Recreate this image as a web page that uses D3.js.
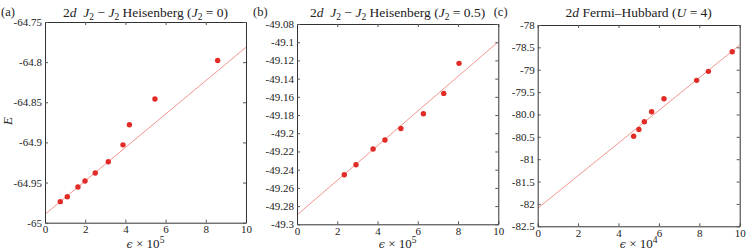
<!DOCTYPE html>
<html>
<head>
<meta charset="utf-8">
<script src="https://cdn.jsdelivr.net/npm/d3@7"></script>
<style>
  body { margin: 0; background: #fff; }
  svg text { font-family: "Liberation Serif", "DejaVu Serif", serif; fill: #222; }
</style>
</head>
<body>
<div id="chart"></div>
<script>
// panel (a): 2d J1-J2 Heisenberg, J2 = 0
var epsA = [0.76, 1.11, 1.64, 1.99, 2.50, 3.15, 3.88, 4.20, 5.47, 8.59];
var energyA = [-64.9738, -64.9676, -64.9555, -64.948, -64.938, -64.924, -64.903, -64.878, -64.846, -64.798];
var fitA = [-64.9895, -64.7815];  // fit value at eps = 0 and eps = 10
var yTicksA = [-64.75, -64.8, -64.85, -64.9, -64.95, -65];
var yLabelsA = ["-64.75", "-64.8", "-64.85", "-64.9", "-64.95", "-65"];

// panel (b): J2 = 0.5
var epsB = [2.35, 2.93, 3.78, 4.37, 5.16, 6.28, 7.29, 8.05];
var energyB = [-49.2455, -49.2346, -49.2173, -49.2074, -49.1948, -49.1786, -49.1562, -49.1232];
var fitB = [-49.2898, -49.0995];
var yTicksB = [-49.08, -49.1, -49.12, -49.14, -49.16, -49.18, -49.2, -49.22, -49.24, -49.26, -49.28, -49.3];
var yLabelsB = ["-49.08", "-49.1", "-49.12", "-49.14", "-49.16", "-49.18", "-49.2", "-49.22", "-49.24", "-49.26", "-49.28", "-49.3"];

// panel (c): 2d Fermi-Hubbard, U = 4
var epsC = [4.75, 5.01, 5.28, 5.64, 6.25, 7.87, 8.45, 9.63];
var energyC = [-80.488, -80.337, -80.162, -79.939, -79.648, -79.237, -79.036, -78.598];
var fitC = [-82.098, -78.448];
var yTicksC = [-78, -78.5, -79, -79.5, -80, -80.5, -81, -81.5, -82, -82.5];
var yLabelsC = ["-78", "-78.5", "-79", "-79.5", "-80.0", "-80.5", "-81", "-81.5", "-82", "-82.5"];

var xTicks = [0, 2, 4, 6, 8, 10];

var W = 747, H = 252;
var serif = "'Liberation Serif', 'DejaVu Serif', serif";
var svg = d3.select("#chart").append("svg").attr("width", W).attr("height", H);

var panels = [
    {tag: "(a)", title: [["2"], ["d", 1], ["\u2002"], ["J", 1], ["2", 0, 1], [" \u2212 "], ["J", 1], ["2", 0, 1], [" Heisenberg ("], ["J", 1], ["2", 0, 1], [" = 0)"]],
     xs: epsA, ys: energyA, fit: fitA, yt: yTicksA, yl: yLabelsA, dom: [-65, -64.75], exp: "5",
     box: {l: 45, r: 246, t: 22, b: 222.7}, ylab: true},
    {tag: "(b)", title: [["2"], ["d", 1], ["\u2002"], ["J", 1], ["2", 0, 1], [" \u2212 "], ["J", 1], ["2", 0, 1], [" Heisenberg ("], ["J", 1], ["2", 0, 1], [" = 0.5)"]],
     xs: epsB, ys: energyB, fit: fitB, yt: yTicksB, yl: yLabelsB, dom: [-49.3, -49.08], exp: "5",
     box: {l: 297, r: 498.3, t: 24, b: 224.3}},
    {tag: "(c)", title: [["2"], ["d", 1], [" Fermi\u2013Hubbard ("], ["U", 1], [" = 4)"]],
     xs: epsC, ys: energyC, fit: fitC, yt: yTicksC, yl: yLabelsC, dom: [-82.5, -78], exp: "4",
     box: {l: 537.7, r: 739.7, t: 25, b: 226.3}}
];

panels.forEach(function(p) {
    var b = p.box;
    var x = d3.scaleLinear().domain([0, 10]).range([b.l, b.r]);
    var y = d3.scaleLinear().domain(p.dom).range([b.b, b.t]);
    var g = svg.append("g");

    // fit line, clipped to the box
    var clipId = "clip" + p.tag.replace(/\W/g, "");
    svg.append("clipPath").attr("id", clipId).append("rect")
        .attr("x", b.l).attr("y", b.t).attr("width", b.r - b.l).attr("height", b.b - b.t);
    g.append("line")
        .attr("clip-path", "url(#" + clipId + ")")
        .attr("x1", x(0)).attr("y1", y(p.fit[0]))
        .attr("x2", x(10)).attr("y2", y(p.fit[1]))
        .attr("stroke", "#f08a84").attr("stroke-width", 0.9);

    g.selectAll("circle").data(p.xs).enter().append("circle")
        .attr("cx", d => x(d))
        .attr("cy", (d, i) => y(p.ys[i]))
        .attr("r", 2.7)
        .attr("fill", "#e02b26");

    // axes: labelled bottom/left, mirrored ticks top/right, all inward
    var fmtY = (d, i) => p.yl[i];
    var ax = [
        g.append("g").attr("transform", "translate(0," + b.b + ")")
            .call(d3.axisBottom(x).tickValues(xTicks).tickSizeInner(-3).tickSizeOuter(0).tickPadding(3)),
        g.append("g").attr("transform", "translate(0," + b.t + ")")
            .call(d3.axisTop(x).tickValues(xTicks).tickSizeInner(-3).tickSizeOuter(0).tickFormat("")),
        g.append("g").attr("transform", "translate(" + b.l + ",0)")
            .call(d3.axisLeft(y).tickValues(p.yt).tickFormat(fmtY).tickSizeInner(-3).tickSizeOuter(0).tickPadding(3)),
        g.append("g").attr("transform", "translate(" + b.r + ",0)")
            .call(d3.axisRight(y).tickValues(p.yt).tickSizeInner(-3).tickSizeOuter(0).tickFormat(""))
    ];
    ax.forEach(function(a) {
        a.attr("font-family", serif).attr("font-size", 11);
        a.select(".domain").attr("stroke", "#333");
        a.selectAll(".tick line").attr("stroke", "#555");
        a.selectAll("text").attr("font-size", 11).attr("fill", "#222")
            .attr("font-family", serif).style("font-family", serif);
    });

    // title
    var cx = (b.l + b.r) / 2;
    var t = svg.append("text").attr("x", cx).attr("y", 17)
        .attr("text-anchor", "middle").attr("font-size", 13.5);
    p.title.forEach(function(s, k) {
        var sp = t.append("tspan").text(s[0]);
        if (s[1]) sp.attr("font-style", "italic");
        if (s[2]) sp.attr("font-size", 9.5).attr("dy", 3);
        else if (k > 0 && p.title[k - 1][2]) sp.attr("dy", -3);
    });
    svg.append("text").attr("x", b.l - 44).attr("y", 16).attr("font-size", 12.5).text(p.tag);

    // x label
    var xl = svg.append("text").attr("x", cx).attr("y", 248)
        .attr("text-anchor", "middle").attr("font-size", 13);
    xl.append("tspan").attr("font-style", "italic").style("font-family", "'DejaVu Serif', serif")
        .attr("font-size", 11).text("\u03f5");
    xl.append("tspan").text(" \u00d7 10");
    xl.append("tspan").attr("font-size", 9.5).attr("dy", -5).text(p.exp);

    if (p.ylab) {
        svg.append("text").attr("transform", "translate(12,121) rotate(-90)")
            .attr("text-anchor", "middle").attr("font-size", 13).attr("font-style", "italic").text("E");
    }
});
</script>
</body>
</html>
